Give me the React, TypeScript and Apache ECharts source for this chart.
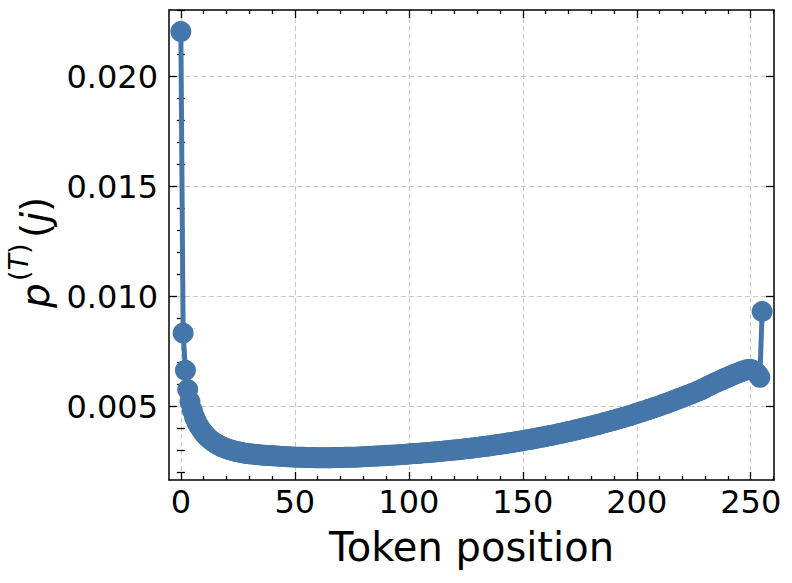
import React, { useEffect, useRef } from "react";
import * as echarts from "echarts";

// p^(T)(j) for token positions 0..255
const probValues: number[] = [
  0.02205, 0.00834, 0.00665, 0.00577, 0.00522, 0.00483, 0.00453, 0.00429, 0.00410, 0.00394, 0.00380,
  0.00368, 0.00358, 0.00349, 0.00341, 0.00334, 0.00328, 0.00322, 0.00317, 0.00313, 0.00309,
  0.00305, 0.00302, 0.00299, 0.00296, 0.00294, 0.00292, 0.00290, 0.00288, 0.00286, 0.00285,
  0.00284, 0.00283, 0.00282, 0.00281, 0.00280, 0.00279, 0.00278, 0.00277, 0.00277, 0.00276,
  0.00275, 0.00275, 0.00274, 0.00273, 0.00273, 0.00272, 0.00272, 0.00271, 0.00271, 0.00270,
  0.00270, 0.00269, 0.00269, 0.00269, 0.00268, 0.00268, 0.00268, 0.00268, 0.00267, 0.00267,
  0.00267, 0.00267, 0.00267, 0.00267, 0.00267, 0.00267, 0.00268, 0.00268, 0.00268, 0.00268,
  0.00268, 0.00269, 0.00269, 0.00269, 0.00270, 0.00270, 0.00270, 0.00271, 0.00271, 0.00272,
  0.00272, 0.00273, 0.00273, 0.00274, 0.00274, 0.00275, 0.00275, 0.00276, 0.00276, 0.00277,
  0.00278, 0.00278, 0.00279, 0.00280, 0.00280, 0.00281, 0.00282, 0.00282, 0.00283, 0.00284,
  0.00285, 0.00286, 0.00286, 0.00287, 0.00288, 0.00289, 0.00290, 0.00290, 0.00291, 0.00292,
  0.00293, 0.00294, 0.00295, 0.00296, 0.00297, 0.00298, 0.00299, 0.00300, 0.00301, 0.00302,
  0.00303, 0.00304, 0.00305, 0.00307, 0.00308, 0.00309, 0.00310, 0.00311, 0.00313, 0.00314,
  0.00315, 0.00317, 0.00318, 0.00319, 0.00321, 0.00322, 0.00324, 0.00325, 0.00327, 0.00328,
  0.00330, 0.00331, 0.00333, 0.00335, 0.00336, 0.00338, 0.00340, 0.00341, 0.00343, 0.00345,
  0.00347, 0.00349, 0.00350, 0.00352, 0.00354, 0.00356, 0.00358, 0.00360, 0.00362, 0.00364,
  0.00366, 0.00368, 0.00370, 0.00372, 0.00374, 0.00377, 0.00379, 0.00381, 0.00383, 0.00386,
  0.00388, 0.00390, 0.00393, 0.00395, 0.00398, 0.00400, 0.00403, 0.00405, 0.00408, 0.00410,
  0.00413, 0.00416, 0.00418, 0.00421, 0.00424, 0.00427, 0.00430, 0.00432, 0.00435, 0.00438,
  0.00441, 0.00444, 0.00447, 0.00450, 0.00453, 0.00456, 0.00459, 0.00462, 0.00466, 0.00469,
  0.00472, 0.00476, 0.00479, 0.00482, 0.00486, 0.00489, 0.00493, 0.00496, 0.00500, 0.00503,
  0.00507, 0.00511, 0.00514, 0.00518, 0.00522, 0.00526, 0.00530, 0.00534, 0.00538, 0.00542,
  0.00546, 0.00550, 0.00554, 0.00558, 0.00562, 0.00566, 0.00571, 0.00575, 0.00580, 0.00585,
  0.00591, 0.00596, 0.00601, 0.00606, 0.00611, 0.00615, 0.00620, 0.00625, 0.00629, 0.00634,
  0.00638, 0.00643, 0.00647, 0.00651, 0.00655, 0.00659, 0.00663, 0.00666, 0.00668, 0.00668,
  0.00665, 0.00659, 0.00649, 0.00633, 0.00932,
];

const xMajorTicks: number[] = [0, 50, 100, 150, 200, 250];
const xMinorTicks: number[] = [
  10, 20, 30, 40, 60, 70, 80, 90, 110, 120, 130, 140, 160, 170, 180, 190, 210, 220, 230, 240, 260,
];
const yMajorTicks: number[] = [0.005, 0.01, 0.015, 0.02];
const yMinorTicks: number[] = [
  0.002, 0.003, 0.004, 0.006, 0.007, 0.008, 0.009, 0.011, 0.012, 0.013, 0.014, 0.016, 0.017,
  0.018, 0.019, 0.021, 0.022, 0.023,
];
const xLimits: [number, number] = [-5.2, 260.2];
const yLimits: [number, number] = [0.00166, 0.02303];

const FONT = "DejaVu Sans";
const LINE_COLOR = "#4576a9";

function App() {
  const ref = useRef<HTMLDivElement>(null);

  useEffect(() => {
    if (!ref.current) return;
    const chart = echarts.init(ref.current, undefined, { renderer: "svg" });
    const seriesData = probValues.map((v, i) => [i, v]);

    const axisLineStyle = { show: true, onZero: false, lineStyle: { color: "#000", width: 1.5 } };
    const tickStyle = { color: "#000", width: 1.3 };

    const xCommon = { type: "value" as const, min: xLimits[0], max: xLimits[1] };
    const yCommon = { type: "value" as const, min: yLimits[0], max: yLimits[1] };

    const option: any = {
      animation: false,
      backgroundColor: "#fff",
      grid: { left: 169, top: 10, right: 18, bottom: 103, containLabel: false },
      xAxis: [
        {
          ...xCommon,
          position: "bottom",
          axisLine: axisLineStyle,
          axisTick: { show: true, inside: true, length: 8, customValues: xMajorTicks, lineStyle: tickStyle },
          axisLabel: {
            customValues: xMajorTicks,
            color: "#000",
            fontFamily: FONT,
            fontSize: 32,
            margin: 6,
          },
          splitLine: { show: true, lineStyle: { color: "#c8c8c8", type: [5, 3], width: 1 } },
          name: "Token position",
          nameLocation: "middle",
          nameGap: 47,
          nameTextStyle: { color: "#000", fontFamily: FONT, fontSize: 40 },
        },
        {
          ...xCommon,
          position: "bottom",
          axisLine: { show: false },
          axisTick: { show: true, inside: true, length: 4, customValues: xMinorTicks, lineStyle: tickStyle },
          axisLabel: { show: false },
          splitLine: { show: false },
        },
        {
          ...xCommon,
          position: "top",
          axisLine: axisLineStyle,
          axisTick: { show: true, inside: true, length: 8, customValues: xMajorTicks, lineStyle: tickStyle },
          axisLabel: { show: false },
          splitLine: { show: false },
        },
        {
          ...xCommon,
          position: "top",
          axisLine: { show: false },
          axisTick: { show: true, inside: true, length: 4, customValues: xMinorTicks, lineStyle: tickStyle },
          axisLabel: { show: false },
          splitLine: { show: false },
        },
      ],
      yAxis: [
        {
          ...yCommon,
          position: "left",
          axisLine: axisLineStyle,
          axisTick: { show: true, inside: true, length: 8, customValues: yMajorTicks, lineStyle: tickStyle },
          axisLabel: {
            customValues: yMajorTicks,
            color: "#000",
            fontFamily: FONT,
            fontSize: 32,
            margin: 11,
            formatter: (v: number) => v.toFixed(3),
          },
          splitLine: { show: true, lineStyle: { color: "#c8c8c8", type: [5, 3], width: 1 } },
        },
        {
          ...yCommon,
          position: "left",
          axisLine: { show: false },
          axisTick: { show: true, inside: true, length: 4, customValues: yMinorTicks, lineStyle: tickStyle },
          axisLabel: { show: false },
          splitLine: { show: false },
        },
        {
          ...yCommon,
          position: "right",
          axisLine: axisLineStyle,
          axisTick: { show: true, inside: true, length: 8, customValues: yMajorTicks, lineStyle: tickStyle },
          axisLabel: { show: false },
          splitLine: { show: false },
        },
        {
          ...yCommon,
          position: "right",
          axisLine: { show: false },
          axisTick: { show: true, inside: true, length: 4, customValues: yMinorTicks, lineStyle: tickStyle },
          axisLabel: { show: false },
          splitLine: { show: false },
        },
      ],
      series: [
        {
          type: "line",
          xAxisIndex: 0,
          yAxisIndex: 0,
          data: seriesData,
          symbol: "circle",
          symbolSize: 21,
          showAllSymbol: true,
          lineStyle: { color: LINE_COLOR, width: 5 },
          itemStyle: { color: LINE_COLOR },
          z: 3,
        },
      ],
      graphic: [
        {
          type: "group",
          x: 35,
          y: 308,
          rotation: Math.PI / 2,
          children: [
            {
              type: "text",
              x: 0,
              y: 0,
              style: {
                text: "p",
                font: `italic 39px "${FONT}"`,
                fill: "#000",
                align: "left",
                verticalAlign: "middle",
              },
            },
            {
              type: "text",
              x: 27,
              y: -17,
              style: {
                text: "{u|(}{i|T}{u|)}",
                fill: "#000",
                align: "left",
                verticalAlign: "middle",
                rich: {
                  u: { fontFamily: FONT, fontSize: 27, fill: "#000" },
                  i: { fontFamily: FONT, fontSize: 27, fontStyle: "italic", fill: "#000" },
                },
              },
            },
            {
              type: "text",
              x: 70,
              y: 0,
              style: {
                text: "{u|(}{i|j}{u|)}",
                fill: "#000",
                align: "left",
                verticalAlign: "middle",
                rich: {
                  u: { fontFamily: FONT, fontSize: 39, fill: "#000" },
                  i: { fontFamily: FONT, fontSize: 39, fontStyle: "italic", fill: "#000" },
                },
              },
            },
          ],
        },
      ],
    };

    chart.setOption(option);
    return () => chart.dispose();
  }, []);

  return (
    <div
      ref={ref}
      style={{ position: "fixed", left: 0, top: 0, width: 792, height: 583, background: "#fff" }}
    />
  );
}

export default App;
